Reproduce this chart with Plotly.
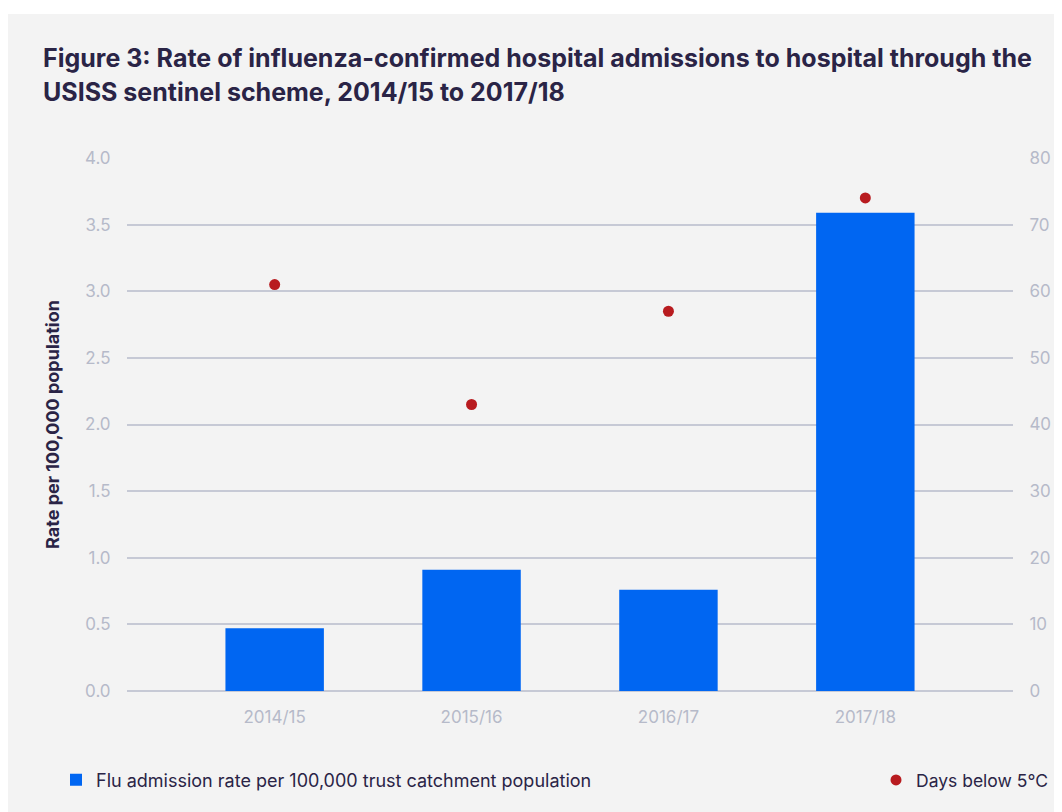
import plotly.graph_objects as go

seasons = ["2014/15", "2015/16", "2016/17", "2017/18"]
admission_rate = [0.47, 0.91, 0.76, 3.59]
days_below_5c = [61, 43, 57, 74]

bar_name = "Flu admission rate per 100,000 trust catchment population"
dot_name = "Days below 5°C"

# the page body has an 8px margin; work in reference pixel coordinates
OFF = 8
W, H = 1062 - OFF, 812 - OFF
L, T = 127 - OFF, 158 - OFF
pw, ph = 886, 533
R, B = W - L - pw, H - T - ph

def px_x(p):
    return (p - OFF - L) / pw

def px_y(p):
    return (T + ph - (p - OFF)) / ph

TITLE_COLOR = "#2a2446"
TICK_COLOR = "#b6bac9"
GRID_COLOR = "#c6c9d5"
FONT = "Inter"

fig = go.Figure()
fig.add_trace(go.Bar(
    x=seasons, y=admission_rate, name=bar_name,
    marker=dict(color="#0066f2", line=dict(width=0)),
    width=0.5, legend="legend", yaxis="y",
))
fig.add_trace(go.Scatter(
    x=seasons, y=days_below_5c, name=dot_name, mode="markers",
    marker=dict(color="#b81b1f", size=11),
    legend="legend2", yaxis="y2",
))

fig.update_layout(
    width=W, height=H,
    margin=dict(l=L, r=R, t=T, b=B, autoexpand=False),
    paper_bgcolor="#ffffff",
    plot_bgcolor="rgba(0,0,0,0)",
    font=dict(family=FONT, color=TITLE_COLOR),
    xaxis=dict(
        range=[-0.75, 3.75], showgrid=False, zeroline=False, showline=False,
        tickfont=dict(size=17, color=TICK_COLOR, family=FONT),
        ticks="outside", ticklen=11, tickcolor="rgba(0,0,0,0)",
    ),
    yaxis=dict(
        range=[0, 4], dtick=0.5, tickformat=".1f",
        showgrid=True, gridcolor=GRID_COLOR, gridwidth=1.5,
        zeroline=True, zerolinecolor=GRID_COLOR, zerolinewidth=1.5,
        showline=False,
        tickfont=dict(size=17, color=TICK_COLOR, family=FONT),
        ticks="outside", ticklen=12, tickcolor="rgba(0,0,0,0)",
        title=dict(text="<b>Rate per 100,000 population</b>",
                   font=dict(size=18, color=TITLE_COLOR, family=FONT), standoff=20),
    ),
    yaxis2=dict(
        range=[0, 80], dtick=10, overlaying="y", side="right",
        showgrid=False, zeroline=False, showline=False,
        tickfont=dict(size=17, color=TICK_COLOR, family=FONT),
        ticks="outside", ticklen=12, tickcolor="rgba(0,0,0,0)",
    ),
    showlegend=True,
    legend=dict(
        x=px_x(56), y=px_y(780), xanchor="left", yanchor="middle",
        orientation="h", bgcolor="rgba(0,0,0,0)",
        font=dict(size=18, color=TITLE_COLOR, family=FONT),
    ),
    legend2=dict(
        x=px_x(1053), y=px_y(780), xanchor="right", yanchor="middle",
        orientation="h", bgcolor="rgba(0,0,0,0)",
        font=dict(size=17.5, color=TITLE_COLOR, family=FONT),
    ),
    shapes=[dict(
        type="rect", xref="paper", yref="paper", layer="below",
        x0=px_x(5), x1=px_x(1062 + 5), y0=px_y(812 + 5), y1=px_y(14),
        fillcolor="#f3f3f3", line=dict(width=0),
    )],
    annotations=[
        dict(text="<b>Figure 3: Rate of influenza-confirmed hospital admissions to hospital through the</b>",
             xref="paper", yref="paper", x=px_x(41), y=px_y(58), xanchor="left", yanchor="middle",
             showarrow=False, font=dict(size=25, color=TITLE_COLOR, family=FONT)),
        dict(text="<b>USISS sentinel scheme, 2014/15 to 2017/18</b>",
             xref="paper", yref="paper", x=px_x(41), y=px_y(92), xanchor="left", yanchor="middle",
             showarrow=False, font=dict(size=25, color=TITLE_COLOR, family=FONT)),
    ],
)

fig.write_html("out.html")
